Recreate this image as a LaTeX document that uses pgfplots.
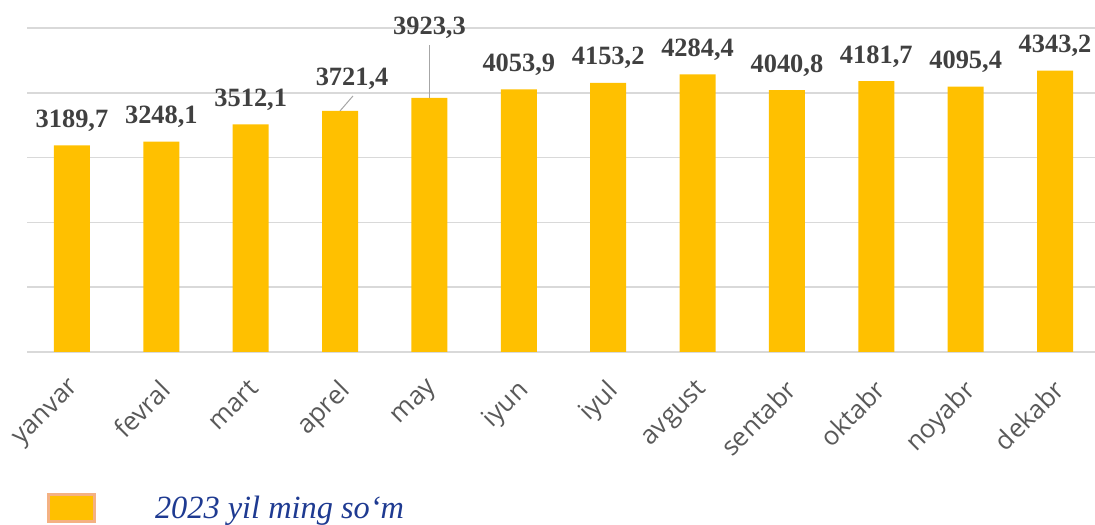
\documentclass[border=0pt]{standalone}
\usepackage{fontspec}
\setmainfont{Liberation Serif}
\newfontfamily\tickfont{Open Sans}
\usepackage{pgfplots}
\usepackage{pgfplotstable}
\pgfplotsset{compat=1.18}
\definecolor{barcol}{HTML}{FFC000}
\definecolor{labcol}{HTML}{404040}
\definecolor{tickcol}{HTML}{595959}
\definecolor{gridcol}{HTML}{D9D9D9}
\definecolor{legborder}{HTML}{F4B183}
\definecolor{legblue}{RGB}{30,58,145}
\definecolor{leadcol}{HTML}{A6A6A6}
\pgfplotstableread{
x y lab dx dy
0 3189.7 3189,7 0 18
1 3248.1 3248,1 0 18
2 3512.1 3512,1 0 18
3 3721.4 3721,4 12 25
4 3923.3 3923,3 0 63
5 4053.9 4053,9 0 18
6 4153.2 4153,2 0 18
7 4284.4 4284,4 0 18
8 4040.8 4040,8 0 18
9 4181.7 4181,7 0 18
10 4095.4 4095,4 0 18
11 4343.2 4343,2 0 18
}\datatable
\begin{document}
\begin{tikzpicture}
\useasboundingbox (0,0) rectangle (1095bp,525bp);
\begin{axis}[
  at={(27.3bp,173bp)}, anchor=south west,
  scale only axis,
  width=1072.4bp, height=324bp,
  xmin=-0.5, xmax=11.5,
  ymin=0, ymax=5000,
  xtick=data,
  xticklabels={yanvar,fevral,mart,aprel,may,iyun,iyul,avgust,sentabr,oktabr,noyabr,dekabr},
  ytick={0,1000,2000,3000,4000,5000},
  yticklabels={},
  ymajorgrids,
  grid style={draw=gridcol, line width=1.5bp},
  axis line style={draw=none},
  major tick style={draw=none},
  xticklabel style={font=\tickfont\fontsize{26}{30}\selectfont, text=tickcol, xshift=-3bp, yshift=-26bp, rotate=45, anchor=north east, inner sep=0pt},
  legend style={at={(0.01837,-0.4815)}, anchor=west, draw=none, fill=none, inner sep=0pt, outer sep=0pt,
    font=\itshape\fontsize{32.5}{38}\selectfont, text=legblue, column sep=59bp, nodes={inner sep=0pt}},
  legend image code/.code={\draw[fill=barcol, draw=legborder, line width=3bp] (1.5bp,-13.5bp) rectangle (47.5bp,13.5bp);},
]
\addplot[ybar, bar width=36bp, fill=barcol, draw=none,
  point meta=explicit symbolic,
  visualization depends on={\thisrow{dx} \as \dx},
  visualization depends on={\thisrow{dy} \as \dy},
  nodes near coords,
  nodes near coords style={anchor=base, xshift={\dx*1bp}, yshift={\dy*1bp}, font=\bfseries\fontsize{26.5}{30}\selectfont, text=labcol},
] table[x=x, y=y, meta=lab] {\datatable};
\addlegendentry{2023 yil ming so‘m}
\addplot[draw=leadcol, line width=1bp, forget plot] coordinates {(4,3923.3) (4,4738)};
\addplot[draw=leadcol, line width=1bp, forget plot] coordinates {(3.0,3721.4) (3.144,3951)};
\end{axis}
\end{tikzpicture}
\end{document}
